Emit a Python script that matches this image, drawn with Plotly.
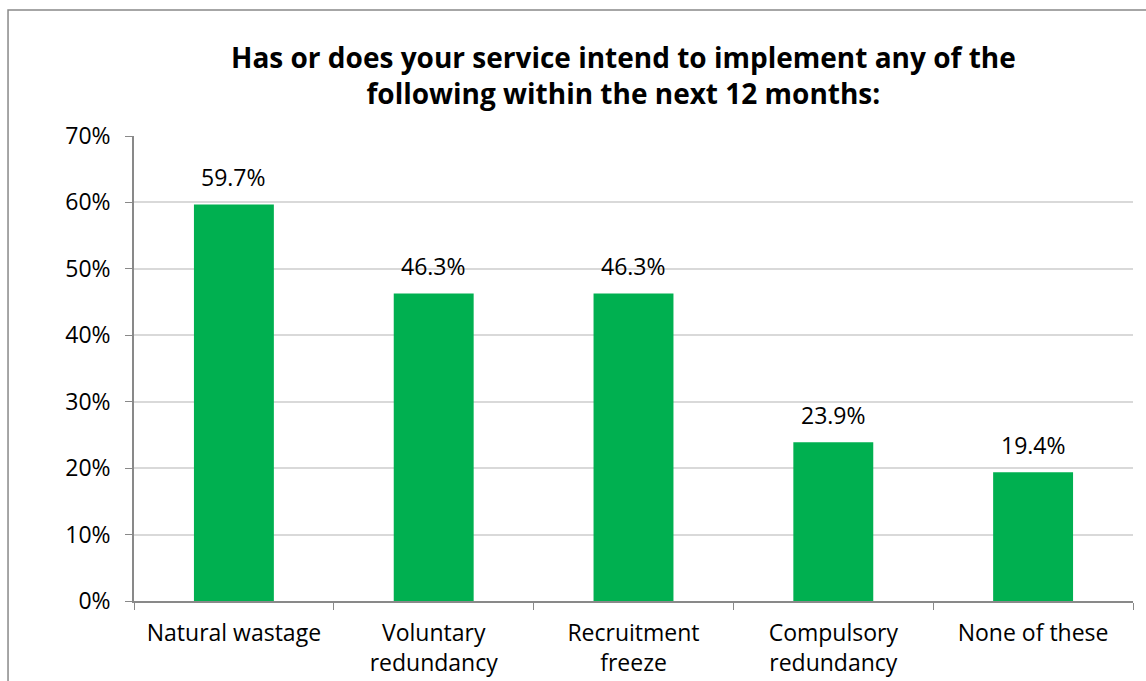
import plotly.graph_objects as go

categories = ["Natural wastage", "Voluntary<br>redundancy", "Recruitment<br>freeze",
              "Compulsory<br>redundancy", "None of these"]
values = [59.7, 46.3, 46.3, 23.9, 19.4]
y_ticks = [0, 10, 20, 30, 40, 50, 60, 70]
y_tick_labels = [f"{v}%" for v in y_ticks]
title_text = ("Has or does your service intend to implement any of the<br>"
              "following within the next 12 months:")

FONT = "Open Sans"
GREEN = "#00B050"
AXIS = "#898989"
GRID = "#D9D9D9"

fig = go.Figure(
    go.Bar(
        x=categories,
        y=values,
        marker=dict(color=GREEN, line=dict(width=0)),
        width=0.4,
        hoverinfo="x+y",
    )
)

# Value labels above each bar
for cat, val in zip(categories, values):
    fig.add_annotation(
        x=cat, y=val,
        text=f"{val:.1f}%",
        xref="x", yref="y",
        xanchor="center", yanchor="bottom",
        yshift=9,
        showarrow=False,
        font=dict(family=FONT, size=23, color="black"),
    )

fig.update_layout(
    width=1146,
    height=681,
    margin=dict(l=134, r=13, t=136, b=80, autoexpand=False),
    paper_bgcolor="white",
    plot_bgcolor="white",
    showlegend=False,
    font=dict(family=FONT, color="black"),
    bargap=0.6,
)

fig.update_xaxes(
    tickson="boundaries",
    ticks="outside",
    ticklen=7,
    tickcolor=AXIS,
    showline=True,
    linecolor=AXIS,
    linewidth=1.5,
    tickfont=dict(family=FONT, size=23, color="black"),
    ticklabelstandoff=11,
    showgrid=False,
    automargin=False,
)

fig.update_yaxes(
    range=[0, 70],
    tickvals=y_ticks,
    ticktext=y_tick_labels,
    ticks="outside",
    ticklen=7,
    tickcolor=AXIS,
    showline=True,
    linecolor=AXIS,
    linewidth=1.5,
    showgrid=True,
    gridcolor=GRID,
    gridwidth=1.5,
    zeroline=False,
    tickfont=dict(family=FONT, size=23, color="black"),
    ticklabelstandoff=10,
    automargin=False,
)

# Chart title, centred over the bars
fig.add_annotation(
    text=f"<b>{title_text}</b>",
    xref="paper", yref="paper",
    x=0.49, y=1.131,
    xanchor="center", yanchor="middle",
    showarrow=False,
    font=dict(family=FONT, size=28, color="black"),
)

# Outer chart frame
fig.add_shape(
    type="rect",
    xref="paper", yref="paper",
    x0=-0.1261, x1=1.2, y0=-0.4, y1=1.271,
    line=dict(color=AXIS, width=1.5),
    fillcolor="rgba(0,0,0,0)",
    layer="below",
)

fig.write_html("out.html")
